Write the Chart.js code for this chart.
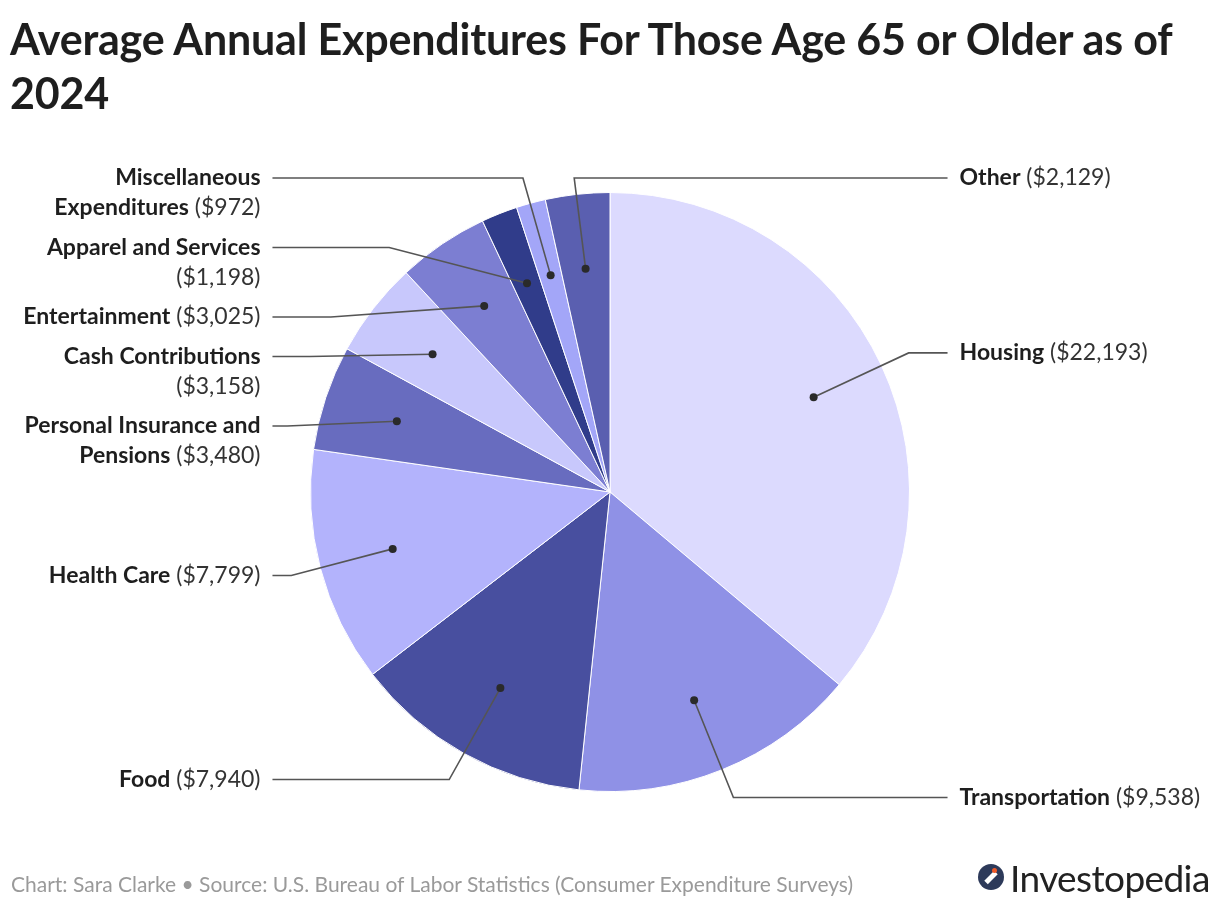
<!DOCTYPE html>
<html>
<head>
<meta charset="utf-8">
<script src="https://cdn.jsdelivr.net/npm/chart.js@4"></script>
<style>
  html, body { margin: 0; padding: 0; background: #fff; }
  body { width: 1220px; height: 908px; position: relative; overflow: hidden; font-family: Lato, "Noto Sans", sans-serif; }
  #title { position: absolute; left: 10px; top: 12px; font-size: 43px; font-weight: 700; color: #1e1e1e; line-height: 54px; letter-spacing: -0.2px; white-space: nowrap; }
  #wrap { position: absolute; left: 0; top: 0; width: 1220px; height: 908px; }
  #footer { position: absolute; left: 11px; top: 871px; font-size: 21px; color: #9a9a9a; }
  #logo { position: absolute; left: 978px; top: 858px; height: 38px; display: flex; align-items: center; }
  #logo .icon { width: 26px; height: 26px; border-radius: 50%; background: #2d3a5a; position: relative; margin-right: 6px; overflow: hidden; }
  #logo .icon:before { content: ""; position: absolute; left: 6px; top: 11px; width: 14px; height: 5px; background: #fff; transform: rotate(-45deg); }
  #logo .icon:after { content: ""; position: absolute; left: 14px; top: 4px; width: 5px; height: 5px; border-radius: 50%; background: #f05a28; }
  #logo .txt { font-size: 37px; color: #222; letter-spacing: -0.6px; }
</style>
</head>
<body>
<div id="wrap"><canvas id="pie"></canvas></div>
<div id="title">Average Annual Expenditures For Those Age 65 or Older as of<br>2024</div>
<div id="footer">Chart: Sara Clarke • Source: U.S. Bureau of Labor Statistics (Consumer Expenditure Surveys)</div>
<div id="logo"><div class="icon"></div><div class="txt">Investopedia</div></div>
<script>
// categories in clockwise order from 12 o'clock
const categories = ['Housing', 'Transportation', 'Food', 'Health Care', 'Personal Insurance and Pensions',
  'Cash Contributions', 'Entertainment', 'Apparel and Services', 'Miscellaneous Expenditures', 'Other'];
const spending = [22193, 9538, 7940, 7799, 3480, 3158, 3025, 1198, 972, 2129];
const sliceColors = ['#dcdafe', '#8f91e6', '#484f9f', '#b3b3fc', '#686cbf',
  '#c8c8fc', '#7c7ed2', '#303c8a', '#a3a6f8', '#5a5fb0'];

const fmt = v => '($' + v.toLocaleString('en-US') + ')';

const BOLD = '700 23px Lato, "Noto Sans", sans-serif';
const REG = '400 23px Lato, "Noto Sans", sans-serif';
const LINE_H = 30;
const GAP = 9.5;
const MAX_W = 255;

// word-wrap a "Name ($value)" label, name words bold, value regular
function wrapLabel(ctx, name, value) {
  const tokens = name.split(' ').map(w => ({ t: w, bold: true }));
  tokens.push({ t: fmt(value), bold: false });
  const lines = [];
  let cur = [], curW = 0;
  tokens.forEach(tok => {
    ctx.font = tok.bold ? BOLD : REG;
    const w = ctx.measureText(tok.t).width;
    const sp = cur.length ? ctx.measureText(' ').width : 0;
    if (cur.length && curW + sp + w > MAX_W) {
      lines.push({ parts: cur, w: curW });
      cur = []; curW = 0;
    }
    const s = cur.length ? ctx.measureText(' ').width : 0;
    cur.push({ t: tok.t, bold: tok.bold, w: w, lead: s });
    curW += s + w;
  });
  if (cur.length) lines.push({ parts: cur, w: curW });
  return lines;
}

const outLabels = {
  id: 'outLabels',
  afterDatasetsDraw(chart) {
    const ctx = chart.ctx;
    const meta = chart.getDatasetMeta(0);
    const top = chart.chartArea.top - 14;
    const items = meta.data.map((arc, i) => {
      const p = arc.getProps(['x', 'y', 'startAngle', 'endAngle', 'outerRadius'], true);
      const R = p.outerRadius;
      const mid = (p.startAngle + p.endAngle) / 2;
      let cw = (mid + Math.PI / 2) % (2 * Math.PI);
      if (cw < 0) cw += 2 * Math.PI;
      const side = (cw < Math.PI || cw > 2 * Math.PI - 0.15) ? 1 : -1;
      return {
        i, side, R, cx: p.x, cy: p.y,
        dot: { x: p.x + Math.cos(mid) * R * 0.75, y: p.y + Math.sin(mid) * R * 0.75 },
        ideal: { x: p.x + Math.cos(mid) * R * 1.1, y: p.y + Math.sin(mid) * R * 1.1 },
        lines: wrapLabel(ctx, categories[i], spending[i])
      };
    });
    [1, -1].forEach(s => {
      const group = items.filter(it => it.side === s).sort((a, b) => a.ideal.y - b.ideal.y);
      let next = top;
      group.forEach(it => {
        it.y = Math.max(it.ideal.y, next);
        next = it.y + it.lines.length * LINE_H + GAP;
      });
    });
    ctx.save();
    items.forEach(it => {
      const r1 = it.R * 1.1;
      let ex;
      if (Math.abs(it.y - it.ideal.y) < 20) ex = it.ideal.x;
      else {
        const dy = it.y - it.cy;
        ex = it.cx + it.side * Math.sqrt(Math.max(0, r1 * r1 - dy * dy));
      }
      const lineEnd = it.cx + it.side * it.R * 1.127;
      const textX = it.cx + it.side * it.R * 1.167;
      ctx.strokeStyle = '#555';
      ctx.lineWidth = 1.6;
      ctx.beginPath();
      ctx.moveTo(it.dot.x, it.dot.y);
      ctx.lineTo(ex, it.y);
      ctx.lineTo(lineEnd, it.y);
      ctx.stroke();
      ctx.fillStyle = '#2a2a2a';
      ctx.beginPath();
      ctx.arc(it.dot.x, it.dot.y, 4, 0, Math.PI * 2);
      ctx.fill();
      ctx.textBaseline = 'middle';
      ctx.textAlign = 'left';
      it.lines.forEach((ln, k) => {
        let x = it.side > 0 ? textX : textX - ln.w;
        const y = it.y + k * LINE_H;
        ln.parts.forEach(pt => {
          x += pt.lead;
          ctx.font = pt.bold ? BOLD : REG;
          ctx.fillStyle = pt.bold ? '#1e1e1e' : '#333';
          ctx.fillText(pt.t, x, y);
          x += pt.w;
        });
      });
    });
    ctx.restore();
  }
};

new Chart(document.getElementById('pie'), {
  type: 'pie',
  data: {
    labels: categories,
    datasets: [{
      data: spending,
      backgroundColor: sliceColors,
      borderColor: '#ffffff',
      borderWidth: 1
    }]
  },
  options: {
    responsive: true,
    maintainAspectRatio: false,
    animation: false,
    layout: { padding: { top: 192, bottom: 116, left: 0, right: 0 } },
    plugins: { legend: { display: false }, tooltip: { enabled: false } }
  },
  plugins: [outLabels]
});
</script>
</body>
</html>
